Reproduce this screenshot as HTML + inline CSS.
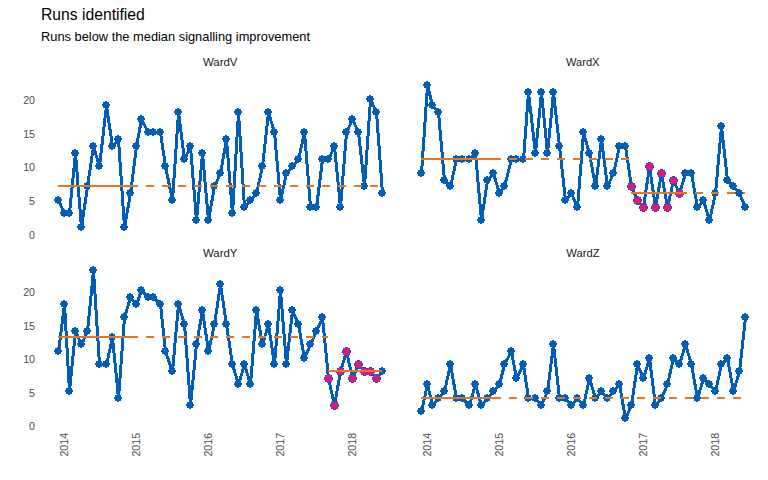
<!DOCTYPE html><html><head><meta charset="utf-8"><style>html,body{margin:0;padding:0;background:#fff;}svg{display:block;}text{font-family:"Liberation Sans",Arial,sans-serif;}</style></head><body>
<svg width="768" height="480" viewBox="0 0 768 480" shape-rendering="crispEdges">
<rect width="768" height="480" fill="#fff"/>
<text x="41" y="19.8" font-size="15.7" fill="#000">Runs identified</text>
<text x="41" y="41" font-size="13.6" textLength="269" lengthAdjust="spacingAndGlyphs" fill="#000">Runs below the median signalling improvement</text>
<text x="203" y="66.1" font-size="11" fill="#1A1A1A" textLength="34.5" lengthAdjust="spacingAndGlyphs">WardV</text>
<text x="566" y="66.1" font-size="11" fill="#1A1A1A" textLength="33.5" lengthAdjust="spacingAndGlyphs">WardX</text>
<text x="203" y="257.1" font-size="11" fill="#1A1A1A" textLength="34.5" lengthAdjust="spacingAndGlyphs">WardY</text>
<text x="566.3" y="257.1" font-size="11" fill="#1A1A1A" textLength="33.2" lengthAdjust="spacingAndGlyphs">WardZ</text>
<text x="35" y="238.95" font-size="10.67" fill="#4D4D4D" text-anchor="end">0</text>
<text x="35" y="205.17" font-size="10.67" fill="#4D4D4D" text-anchor="end">5</text>
<text x="35" y="171.40" font-size="10.67" fill="#4D4D4D" text-anchor="end">10</text>
<text x="35" y="137.62" font-size="10.67" fill="#4D4D4D" text-anchor="end">15</text>
<text x="35" y="103.85" font-size="10.67" fill="#4D4D4D" text-anchor="end">20</text>
<text x="35" y="430.20" font-size="10.67" fill="#4D4D4D" text-anchor="end">0</text>
<text x="35" y="396.70" font-size="10.67" fill="#4D4D4D" text-anchor="end">5</text>
<text x="35" y="363.20" font-size="10.67" fill="#4D4D4D" text-anchor="end">10</text>
<text x="35" y="329.70" font-size="10.67" fill="#4D4D4D" text-anchor="end">15</text>
<text x="35" y="296.20" font-size="10.67" fill="#4D4D4D" text-anchor="end">20</text>
<text transform="translate(68,432.9) rotate(-90)" font-size="10.67" fill="#4D4D4D" text-anchor="end">2014</text>
<text transform="translate(140,432.9) rotate(-90)" font-size="10.67" fill="#4D4D4D" text-anchor="end">2015</text>
<text transform="translate(212,432.9) rotate(-90)" font-size="10.67" fill="#4D4D4D" text-anchor="end">2016</text>
<text transform="translate(284,432.9) rotate(-90)" font-size="10.67" fill="#4D4D4D" text-anchor="end">2017</text>
<text transform="translate(356,432.9) rotate(-90)" font-size="10.67" fill="#4D4D4D" text-anchor="end">2018</text>
<text transform="translate(431,432.9) rotate(-90)" font-size="10.67" fill="#4D4D4D" text-anchor="end">2014</text>
<text transform="translate(503,432.9) rotate(-90)" font-size="10.67" fill="#4D4D4D" text-anchor="end">2015</text>
<text transform="translate(575,432.9) rotate(-90)" font-size="10.67" fill="#4D4D4D" text-anchor="end">2016</text>
<text transform="translate(647,432.9) rotate(-90)" font-size="10.67" fill="#4D4D4D" text-anchor="end">2017</text>
<text transform="translate(719,432.9) rotate(-90)" font-size="10.67" fill="#4D4D4D" text-anchor="end">2018</text>
<polyline points="58.5,200.5 64.5,213.5 69.5,213.5 75.5,153.5 81.5,227.5 87.5,186.5 93.5,146.5 99.5,166.5 106.5,105.5 112.5,146.5 118.5,139.5 124.5,227.5 130.5,193.5 136.5,146.5 141.5,119.5 148.5,132.5 153.5,132.5 160.5,132.5 165.5,166.5 172.5,200.5 178.5,112.5 184.5,159.5 190.5,146.5 196.5,220.5 202.5,153.5 208.5,220.5 214.5,186.5 220.5,173.5 226.5,139.5 232.5,213.5 238.5,112.5 244.5,207.5 250.5,200.5 256.5,193.5 262.5,166.5 268.5,112.5 274.5,132.5 280.5,200.5 286.5,173.5 292.5,166.5 298.5,159.5 304.5,132.5 310.5,207.5 316.5,207.5 322.5,159.5 328.5,159.5 334.5,146.5 340.5,207.5 346.5,132.5 352.5,119.5 358.5,132.5 364.5,186.5 370.5,99.5 376.5,112.5 382.5,193.5" fill="none" stroke="#005EB8" stroke-width="3" stroke-linejoin="round" stroke-linecap="round"/>
<path d="M57 196h2v1h2v2h1v2h-1v2h-2v1h-2v-1h-2v-2h-1v-2h1v-2h2zM63 209h2v1h2v2h1v2h-1v2h-2v1h-2v-1h-2v-2h-1v-2h1v-2h2zM68 209h2v1h2v2h1v2h-1v2h-2v1h-2v-1h-2v-2h-1v-2h1v-2h2zM74 149h2v1h2v2h1v2h-1v2h-2v1h-2v-1h-2v-2h-1v-2h1v-2h2zM80 223h2v1h2v2h1v2h-1v2h-2v1h-2v-1h-2v-2h-1v-2h1v-2h2zM86 182h2v1h2v2h1v2h-1v2h-2v1h-2v-1h-2v-2h-1v-2h1v-2h2zM92 142h2v1h2v2h1v2h-1v2h-2v1h-2v-1h-2v-2h-1v-2h1v-2h2zM98 162h2v1h2v2h1v2h-1v2h-2v1h-2v-1h-2v-2h-1v-2h1v-2h2zM105 101h2v1h2v2h1v2h-1v2h-2v1h-2v-1h-2v-2h-1v-2h1v-2h2zM111 142h2v1h2v2h1v2h-1v2h-2v1h-2v-1h-2v-2h-1v-2h1v-2h2zM117 135h2v1h2v2h1v2h-1v2h-2v1h-2v-1h-2v-2h-1v-2h1v-2h2zM123 223h2v1h2v2h1v2h-1v2h-2v1h-2v-1h-2v-2h-1v-2h1v-2h2zM129 189h2v1h2v2h1v2h-1v2h-2v1h-2v-1h-2v-2h-1v-2h1v-2h2zM135 142h2v1h2v2h1v2h-1v2h-2v1h-2v-1h-2v-2h-1v-2h1v-2h2zM140 115h2v1h2v2h1v2h-1v2h-2v1h-2v-1h-2v-2h-1v-2h1v-2h2zM147 128h2v1h2v2h1v2h-1v2h-2v1h-2v-1h-2v-2h-1v-2h1v-2h2zM152 128h2v1h2v2h1v2h-1v2h-2v1h-2v-1h-2v-2h-1v-2h1v-2h2zM159 128h2v1h2v2h1v2h-1v2h-2v1h-2v-1h-2v-2h-1v-2h1v-2h2zM164 162h2v1h2v2h1v2h-1v2h-2v1h-2v-1h-2v-2h-1v-2h1v-2h2zM171 196h2v1h2v2h1v2h-1v2h-2v1h-2v-1h-2v-2h-1v-2h1v-2h2zM177 108h2v1h2v2h1v2h-1v2h-2v1h-2v-1h-2v-2h-1v-2h1v-2h2zM183 155h2v1h2v2h1v2h-1v2h-2v1h-2v-1h-2v-2h-1v-2h1v-2h2zM189 142h2v1h2v2h1v2h-1v2h-2v1h-2v-1h-2v-2h-1v-2h1v-2h2zM195 216h2v1h2v2h1v2h-1v2h-2v1h-2v-1h-2v-2h-1v-2h1v-2h2zM201 149h2v1h2v2h1v2h-1v2h-2v1h-2v-1h-2v-2h-1v-2h1v-2h2zM207 216h2v1h2v2h1v2h-1v2h-2v1h-2v-1h-2v-2h-1v-2h1v-2h2zM213 182h2v1h2v2h1v2h-1v2h-2v1h-2v-1h-2v-2h-1v-2h1v-2h2zM219 169h2v1h2v2h1v2h-1v2h-2v1h-2v-1h-2v-2h-1v-2h1v-2h2zM225 135h2v1h2v2h1v2h-1v2h-2v1h-2v-1h-2v-2h-1v-2h1v-2h2zM231 209h2v1h2v2h1v2h-1v2h-2v1h-2v-1h-2v-2h-1v-2h1v-2h2zM237 108h2v1h2v2h1v2h-1v2h-2v1h-2v-1h-2v-2h-1v-2h1v-2h2zM243 203h2v1h2v2h1v2h-1v2h-2v1h-2v-1h-2v-2h-1v-2h1v-2h2zM249 196h2v1h2v2h1v2h-1v2h-2v1h-2v-1h-2v-2h-1v-2h1v-2h2zM255 189h2v1h2v2h1v2h-1v2h-2v1h-2v-1h-2v-2h-1v-2h1v-2h2zM261 162h2v1h2v2h1v2h-1v2h-2v1h-2v-1h-2v-2h-1v-2h1v-2h2zM267 108h2v1h2v2h1v2h-1v2h-2v1h-2v-1h-2v-2h-1v-2h1v-2h2zM273 128h2v1h2v2h1v2h-1v2h-2v1h-2v-1h-2v-2h-1v-2h1v-2h2zM279 196h2v1h2v2h1v2h-1v2h-2v1h-2v-1h-2v-2h-1v-2h1v-2h2zM285 169h2v1h2v2h1v2h-1v2h-2v1h-2v-1h-2v-2h-1v-2h1v-2h2zM291 162h2v1h2v2h1v2h-1v2h-2v1h-2v-1h-2v-2h-1v-2h1v-2h2zM297 155h2v1h2v2h1v2h-1v2h-2v1h-2v-1h-2v-2h-1v-2h1v-2h2zM303 128h2v1h2v2h1v2h-1v2h-2v1h-2v-1h-2v-2h-1v-2h1v-2h2zM309 203h2v1h2v2h1v2h-1v2h-2v1h-2v-1h-2v-2h-1v-2h1v-2h2zM315 203h2v1h2v2h1v2h-1v2h-2v1h-2v-1h-2v-2h-1v-2h1v-2h2zM321 155h2v1h2v2h1v2h-1v2h-2v1h-2v-1h-2v-2h-1v-2h1v-2h2zM327 155h2v1h2v2h1v2h-1v2h-2v1h-2v-1h-2v-2h-1v-2h1v-2h2zM333 142h2v1h2v2h1v2h-1v2h-2v1h-2v-1h-2v-2h-1v-2h1v-2h2zM339 203h2v1h2v2h1v2h-1v2h-2v1h-2v-1h-2v-2h-1v-2h1v-2h2zM345 128h2v1h2v2h1v2h-1v2h-2v1h-2v-1h-2v-2h-1v-2h1v-2h2zM351 115h2v1h2v2h1v2h-1v2h-2v1h-2v-1h-2v-2h-1v-2h1v-2h2zM357 128h2v1h2v2h1v2h-1v2h-2v1h-2v-1h-2v-2h-1v-2h1v-2h2zM363 182h2v1h2v2h1v2h-1v2h-2v1h-2v-1h-2v-2h-1v-2h1v-2h2zM369 95h2v1h2v2h1v2h-1v2h-2v1h-2v-1h-2v-2h-1v-2h1v-2h2zM375 108h2v1h2v2h1v2h-1v2h-2v1h-2v-1h-2v-2h-1v-2h1v-2h2zM381 189h2v1h2v2h1v2h-1v2h-2v1h-2v-1h-2v-2h-1v-2h1v-2h2z" fill="#005EB8"/>
<line x1="57.62" y1="186.00" x2="129.72" y2="186.00" stroke="#E87722" stroke-width="2"/>
<line x1="129.72" y1="186.00" x2="381.98" y2="186.00" stroke="#E87722" stroke-width="2" stroke-dasharray="8 8"/>
<polyline points="421.5,173.5 427.5,85.5 432.5,105.5 438.5,112.5 444.5,180.5 450.5,186.5 456.5,159.5 462.5,159.5 469.5,159.5 475.5,153.5 481.5,220.5 487.5,180.5 493.5,173.5 499.5,193.5 504.5,186.5 511.5,159.5 516.5,159.5 523.5,159.5 528.5,92.5 535.5,153.5 541.5,92.5 547.5,153.5 553.5,92.5 559.5,146.5 565.5,200.5 571.5,193.5 577.5,207.5 583.5,132.5 589.5,153.5 595.5,186.5 601.5,139.5 607.5,186.5 613.5,173.5 619.5,146.5 625.5,146.5 631.5,186.5 637.5,200.5 643.5,207.5 649.5,166.5 655.5,207.5 661.5,173.5 667.5,207.5 673.5,180.5 679.5,193.5 685.5,173.5 691.5,173.5 697.5,207.5 703.5,200.5 709.5,220.5 715.5,193.5 721.5,126.5 727.5,180.5 733.5,186.5 739.5,193.5 745.5,207.5" fill="none" stroke="#005EB8" stroke-width="3" stroke-linejoin="round" stroke-linecap="round"/>
<path d="M420 169h2v1h2v2h1v2h-1v2h-2v1h-2v-1h-2v-2h-1v-2h1v-2h2zM426 81h2v1h2v2h1v2h-1v2h-2v1h-2v-1h-2v-2h-1v-2h1v-2h2zM431 101h2v1h2v2h1v2h-1v2h-2v1h-2v-1h-2v-2h-1v-2h1v-2h2zM437 108h2v1h2v2h1v2h-1v2h-2v1h-2v-1h-2v-2h-1v-2h1v-2h2zM443 176h2v1h2v2h1v2h-1v2h-2v1h-2v-1h-2v-2h-1v-2h1v-2h2zM449 182h2v1h2v2h1v2h-1v2h-2v1h-2v-1h-2v-2h-1v-2h1v-2h2zM455 155h2v1h2v2h1v2h-1v2h-2v1h-2v-1h-2v-2h-1v-2h1v-2h2zM461 155h2v1h2v2h1v2h-1v2h-2v1h-2v-1h-2v-2h-1v-2h1v-2h2zM468 155h2v1h2v2h1v2h-1v2h-2v1h-2v-1h-2v-2h-1v-2h1v-2h2zM474 149h2v1h2v2h1v2h-1v2h-2v1h-2v-1h-2v-2h-1v-2h1v-2h2zM480 216h2v1h2v2h1v2h-1v2h-2v1h-2v-1h-2v-2h-1v-2h1v-2h2zM486 176h2v1h2v2h1v2h-1v2h-2v1h-2v-1h-2v-2h-1v-2h1v-2h2zM492 169h2v1h2v2h1v2h-1v2h-2v1h-2v-1h-2v-2h-1v-2h1v-2h2zM498 189h2v1h2v2h1v2h-1v2h-2v1h-2v-1h-2v-2h-1v-2h1v-2h2zM503 182h2v1h2v2h1v2h-1v2h-2v1h-2v-1h-2v-2h-1v-2h1v-2h2zM510 155h2v1h2v2h1v2h-1v2h-2v1h-2v-1h-2v-2h-1v-2h1v-2h2zM515 155h2v1h2v2h1v2h-1v2h-2v1h-2v-1h-2v-2h-1v-2h1v-2h2zM522 155h2v1h2v2h1v2h-1v2h-2v1h-2v-1h-2v-2h-1v-2h1v-2h2zM527 88h2v1h2v2h1v2h-1v2h-2v1h-2v-1h-2v-2h-1v-2h1v-2h2zM534 149h2v1h2v2h1v2h-1v2h-2v1h-2v-1h-2v-2h-1v-2h1v-2h2zM540 88h2v1h2v2h1v2h-1v2h-2v1h-2v-1h-2v-2h-1v-2h1v-2h2zM546 149h2v1h2v2h1v2h-1v2h-2v1h-2v-1h-2v-2h-1v-2h1v-2h2zM552 88h2v1h2v2h1v2h-1v2h-2v1h-2v-1h-2v-2h-1v-2h1v-2h2zM558 142h2v1h2v2h1v2h-1v2h-2v1h-2v-1h-2v-2h-1v-2h1v-2h2zM564 196h2v1h2v2h1v2h-1v2h-2v1h-2v-1h-2v-2h-1v-2h1v-2h2zM570 189h2v1h2v2h1v2h-1v2h-2v1h-2v-1h-2v-2h-1v-2h1v-2h2zM576 203h2v1h2v2h1v2h-1v2h-2v1h-2v-1h-2v-2h-1v-2h1v-2h2zM582 128h2v1h2v2h1v2h-1v2h-2v1h-2v-1h-2v-2h-1v-2h1v-2h2zM588 149h2v1h2v2h1v2h-1v2h-2v1h-2v-1h-2v-2h-1v-2h1v-2h2zM594 182h2v1h2v2h1v2h-1v2h-2v1h-2v-1h-2v-2h-1v-2h1v-2h2zM600 135h2v1h2v2h1v2h-1v2h-2v1h-2v-1h-2v-2h-1v-2h1v-2h2zM606 182h2v1h2v2h1v2h-1v2h-2v1h-2v-1h-2v-2h-1v-2h1v-2h2zM612 169h2v1h2v2h1v2h-1v2h-2v1h-2v-1h-2v-2h-1v-2h1v-2h2zM618 142h2v1h2v2h1v2h-1v2h-2v1h-2v-1h-2v-2h-1v-2h1v-2h2zM624 142h2v1h2v2h1v2h-1v2h-2v1h-2v-1h-2v-2h-1v-2h1v-2h2zM630 182h2v1h2v2h1v2h-1v2h-2v1h-2v-1h-2v-2h-1v-2h1v-2h2zM636 196h2v1h2v2h1v2h-1v2h-2v1h-2v-1h-2v-2h-1v-2h1v-2h2zM642 203h2v1h2v2h1v2h-1v2h-2v1h-2v-1h-2v-2h-1v-2h1v-2h2zM648 162h2v1h2v2h1v2h-1v2h-2v1h-2v-1h-2v-2h-1v-2h1v-2h2zM654 203h2v1h2v2h1v2h-1v2h-2v1h-2v-1h-2v-2h-1v-2h1v-2h2zM660 169h2v1h2v2h1v2h-1v2h-2v1h-2v-1h-2v-2h-1v-2h1v-2h2zM666 203h2v1h2v2h1v2h-1v2h-2v1h-2v-1h-2v-2h-1v-2h1v-2h2zM672 176h2v1h2v2h1v2h-1v2h-2v1h-2v-1h-2v-2h-1v-2h1v-2h2zM678 189h2v1h2v2h1v2h-1v2h-2v1h-2v-1h-2v-2h-1v-2h1v-2h2zM684 169h2v1h2v2h1v2h-1v2h-2v1h-2v-1h-2v-2h-1v-2h1v-2h2zM690 169h2v1h2v2h1v2h-1v2h-2v1h-2v-1h-2v-2h-1v-2h1v-2h2zM696 203h2v1h2v2h1v2h-1v2h-2v1h-2v-1h-2v-2h-1v-2h1v-2h2zM702 196h2v1h2v2h1v2h-1v2h-2v1h-2v-1h-2v-2h-1v-2h1v-2h2zM708 216h2v1h2v2h1v2h-1v2h-2v1h-2v-1h-2v-2h-1v-2h1v-2h2zM714 189h2v1h2v2h1v2h-1v2h-2v1h-2v-1h-2v-2h-1v-2h1v-2h2zM720 122h2v1h2v2h1v2h-1v2h-2v1h-2v-1h-2v-2h-1v-2h1v-2h2zM726 176h2v1h2v2h1v2h-1v2h-2v1h-2v-1h-2v-2h-1v-2h1v-2h2zM732 182h2v1h2v2h1v2h-1v2h-2v1h-2v-1h-2v-2h-1v-2h1v-2h2zM738 189h2v1h2v2h1v2h-1v2h-2v1h-2v-1h-2v-2h-1v-2h1v-2h2zM744 203h2v1h2v2h1v2h-1v2h-2v1h-2v-1h-2v-2h-1v-2h1v-2h2z" fill="#005EB8"/>
<path d="M630 182h3v1h2v2h1v3h-1v2h-2v1h-3v-1h-2v-2h-1v-3h1v-2h2zM636 196h3v1h2v2h1v3h-1v2h-2v1h-3v-1h-2v-2h-1v-3h1v-2h2zM642 203h3v1h2v2h1v3h-1v2h-2v1h-3v-1h-2v-2h-1v-3h1v-2h2zM648 162h3v1h2v2h1v3h-1v2h-2v1h-3v-1h-2v-2h-1v-3h1v-2h2zM654 203h3v1h2v2h1v3h-1v2h-2v1h-3v-1h-2v-2h-1v-3h1v-2h2zM660 169h3v1h2v2h1v3h-1v2h-2v1h-3v-1h-2v-2h-1v-3h1v-2h2zM666 203h3v1h2v2h1v3h-1v2h-2v1h-3v-1h-2v-2h-1v-3h1v-2h2zM672 176h3v1h2v2h1v3h-1v2h-2v1h-3v-1h-2v-2h-1v-3h1v-2h2zM678 189h3v1h2v2h1v3h-1v2h-2v1h-3v-1h-2v-2h-1v-3h1v-2h2z" fill="#005EB8"/>
<path d="M629 183h5v1h1v5h-1v1h-5v-1h-1v-5h1zM635 197h5v1h1v5h-1v1h-5v-1h-1v-5h1zM641 204h5v1h1v5h-1v1h-5v-1h-1v-5h1zM647 163h5v1h1v5h-1v1h-5v-1h-1v-5h1zM653 204h5v1h1v5h-1v1h-5v-1h-1v-5h1zM659 170h5v1h1v5h-1v1h-5v-1h-1v-5h1zM665 204h5v1h1v5h-1v1h-5v-1h-1v-5h1zM671 177h5v1h1v5h-1v1h-5v-1h-1v-5h1zM677 190h5v1h1v5h-1v1h-5v-1h-1v-5h1z" fill="#DB1884"/>
<line x1="420.62" y1="159.00" x2="492.72" y2="159.00" stroke="#E87722" stroke-width="2"/>
<line x1="492.72" y1="159.00" x2="631.00" y2="159.00" stroke="#E87722" stroke-width="2" stroke-dasharray="8 8"/>
<line x1="631.00" y1="193.00" x2="679.00" y2="193.00" stroke="#E87722" stroke-width="2"/>
<line x1="679.00" y1="193.00" x2="744.98" y2="193.00" stroke="#E87722" stroke-width="2" stroke-dasharray="8 8"/>
<polyline points="58.5,351.5 64.5,304.5 69.5,391.5 75.5,331.5 81.5,344.5 87.5,331.5 93.5,270.5 99.5,364.5 106.5,364.5 112.5,337.5 118.5,398.5 124.5,317.5 130.5,297.5 136.5,304.5 141.5,290.5 148.5,297.5 153.5,297.5 160.5,304.5 165.5,351.5 172.5,371.5 178.5,304.5 184.5,324.5 190.5,405.5 196.5,344.5 202.5,310.5 208.5,351.5 214.5,324.5 220.5,284.5 226.5,324.5 232.5,364.5 238.5,384.5 244.5,364.5 250.5,384.5 256.5,310.5 262.5,344.5 268.5,324.5 274.5,364.5 280.5,290.5 286.5,364.5 292.5,310.5 298.5,324.5 304.5,358.5 310.5,344.5 316.5,331.5 322.5,317.5 328.5,378.5 334.5,405.5 340.5,371.5 346.5,351.5 352.5,378.5 358.5,364.5 364.5,371.5 370.5,371.5 376.5,378.5 382.5,371.5" fill="none" stroke="#005EB8" stroke-width="3" stroke-linejoin="round" stroke-linecap="round"/>
<path d="M57 347h2v1h2v2h1v2h-1v2h-2v1h-2v-1h-2v-2h-1v-2h1v-2h2zM63 300h2v1h2v2h1v2h-1v2h-2v1h-2v-1h-2v-2h-1v-2h1v-2h2zM68 387h2v1h2v2h1v2h-1v2h-2v1h-2v-1h-2v-2h-1v-2h1v-2h2zM74 327h2v1h2v2h1v2h-1v2h-2v1h-2v-1h-2v-2h-1v-2h1v-2h2zM80 340h2v1h2v2h1v2h-1v2h-2v1h-2v-1h-2v-2h-1v-2h1v-2h2zM86 327h2v1h2v2h1v2h-1v2h-2v1h-2v-1h-2v-2h-1v-2h1v-2h2zM92 266h2v1h2v2h1v2h-1v2h-2v1h-2v-1h-2v-2h-1v-2h1v-2h2zM98 360h2v1h2v2h1v2h-1v2h-2v1h-2v-1h-2v-2h-1v-2h1v-2h2zM105 360h2v1h2v2h1v2h-1v2h-2v1h-2v-1h-2v-2h-1v-2h1v-2h2zM111 333h2v1h2v2h1v2h-1v2h-2v1h-2v-1h-2v-2h-1v-2h1v-2h2zM117 394h2v1h2v2h1v2h-1v2h-2v1h-2v-1h-2v-2h-1v-2h1v-2h2zM123 313h2v1h2v2h1v2h-1v2h-2v1h-2v-1h-2v-2h-1v-2h1v-2h2zM129 293h2v1h2v2h1v2h-1v2h-2v1h-2v-1h-2v-2h-1v-2h1v-2h2zM135 300h2v1h2v2h1v2h-1v2h-2v1h-2v-1h-2v-2h-1v-2h1v-2h2zM140 286h2v1h2v2h1v2h-1v2h-2v1h-2v-1h-2v-2h-1v-2h1v-2h2zM147 293h2v1h2v2h1v2h-1v2h-2v1h-2v-1h-2v-2h-1v-2h1v-2h2zM152 293h2v1h2v2h1v2h-1v2h-2v1h-2v-1h-2v-2h-1v-2h1v-2h2zM159 300h2v1h2v2h1v2h-1v2h-2v1h-2v-1h-2v-2h-1v-2h1v-2h2zM164 347h2v1h2v2h1v2h-1v2h-2v1h-2v-1h-2v-2h-1v-2h1v-2h2zM171 367h2v1h2v2h1v2h-1v2h-2v1h-2v-1h-2v-2h-1v-2h1v-2h2zM177 300h2v1h2v2h1v2h-1v2h-2v1h-2v-1h-2v-2h-1v-2h1v-2h2zM183 320h2v1h2v2h1v2h-1v2h-2v1h-2v-1h-2v-2h-1v-2h1v-2h2zM189 401h2v1h2v2h1v2h-1v2h-2v1h-2v-1h-2v-2h-1v-2h1v-2h2zM195 340h2v1h2v2h1v2h-1v2h-2v1h-2v-1h-2v-2h-1v-2h1v-2h2zM201 306h2v1h2v2h1v2h-1v2h-2v1h-2v-1h-2v-2h-1v-2h1v-2h2zM207 347h2v1h2v2h1v2h-1v2h-2v1h-2v-1h-2v-2h-1v-2h1v-2h2zM213 320h2v1h2v2h1v2h-1v2h-2v1h-2v-1h-2v-2h-1v-2h1v-2h2zM219 280h2v1h2v2h1v2h-1v2h-2v1h-2v-1h-2v-2h-1v-2h1v-2h2zM225 320h2v1h2v2h1v2h-1v2h-2v1h-2v-1h-2v-2h-1v-2h1v-2h2zM231 360h2v1h2v2h1v2h-1v2h-2v1h-2v-1h-2v-2h-1v-2h1v-2h2zM237 380h2v1h2v2h1v2h-1v2h-2v1h-2v-1h-2v-2h-1v-2h1v-2h2zM243 360h2v1h2v2h1v2h-1v2h-2v1h-2v-1h-2v-2h-1v-2h1v-2h2zM249 380h2v1h2v2h1v2h-1v2h-2v1h-2v-1h-2v-2h-1v-2h1v-2h2zM255 306h2v1h2v2h1v2h-1v2h-2v1h-2v-1h-2v-2h-1v-2h1v-2h2zM261 340h2v1h2v2h1v2h-1v2h-2v1h-2v-1h-2v-2h-1v-2h1v-2h2zM267 320h2v1h2v2h1v2h-1v2h-2v1h-2v-1h-2v-2h-1v-2h1v-2h2zM273 360h2v1h2v2h1v2h-1v2h-2v1h-2v-1h-2v-2h-1v-2h1v-2h2zM279 286h2v1h2v2h1v2h-1v2h-2v1h-2v-1h-2v-2h-1v-2h1v-2h2zM285 360h2v1h2v2h1v2h-1v2h-2v1h-2v-1h-2v-2h-1v-2h1v-2h2zM291 306h2v1h2v2h1v2h-1v2h-2v1h-2v-1h-2v-2h-1v-2h1v-2h2zM297 320h2v1h2v2h1v2h-1v2h-2v1h-2v-1h-2v-2h-1v-2h1v-2h2zM303 354h2v1h2v2h1v2h-1v2h-2v1h-2v-1h-2v-2h-1v-2h1v-2h2zM309 340h2v1h2v2h1v2h-1v2h-2v1h-2v-1h-2v-2h-1v-2h1v-2h2zM315 327h2v1h2v2h1v2h-1v2h-2v1h-2v-1h-2v-2h-1v-2h1v-2h2zM321 313h2v1h2v2h1v2h-1v2h-2v1h-2v-1h-2v-2h-1v-2h1v-2h2zM327 374h2v1h2v2h1v2h-1v2h-2v1h-2v-1h-2v-2h-1v-2h1v-2h2zM333 401h2v1h2v2h1v2h-1v2h-2v1h-2v-1h-2v-2h-1v-2h1v-2h2zM339 367h2v1h2v2h1v2h-1v2h-2v1h-2v-1h-2v-2h-1v-2h1v-2h2zM345 347h2v1h2v2h1v2h-1v2h-2v1h-2v-1h-2v-2h-1v-2h1v-2h2zM351 374h2v1h2v2h1v2h-1v2h-2v1h-2v-1h-2v-2h-1v-2h1v-2h2zM357 360h2v1h2v2h1v2h-1v2h-2v1h-2v-1h-2v-2h-1v-2h1v-2h2zM363 367h2v1h2v2h1v2h-1v2h-2v1h-2v-1h-2v-2h-1v-2h1v-2h2zM369 367h2v1h2v2h1v2h-1v2h-2v1h-2v-1h-2v-2h-1v-2h1v-2h2zM375 374h2v1h2v2h1v2h-1v2h-2v1h-2v-1h-2v-2h-1v-2h1v-2h2zM381 367h2v1h2v2h1v2h-1v2h-2v1h-2v-1h-2v-2h-1v-2h1v-2h2z" fill="#005EB8"/>
<path d="M327 374h3v1h2v2h1v3h-1v2h-2v1h-3v-1h-2v-2h-1v-3h1v-2h2zM333 401h3v1h2v2h1v3h-1v2h-2v1h-3v-1h-2v-2h-1v-3h1v-2h2zM339 367h3v1h2v2h1v3h-1v2h-2v1h-3v-1h-2v-2h-1v-3h1v-2h2zM345 347h3v1h2v2h1v3h-1v2h-2v1h-3v-1h-2v-2h-1v-3h1v-2h2zM351 374h3v1h2v2h1v3h-1v2h-2v1h-3v-1h-2v-2h-1v-3h1v-2h2zM357 360h3v1h2v2h1v3h-1v2h-2v1h-3v-1h-2v-2h-1v-3h1v-2h2zM363 367h3v1h2v2h1v3h-1v2h-2v1h-3v-1h-2v-2h-1v-3h1v-2h2zM369 367h3v1h2v2h1v3h-1v2h-2v1h-3v-1h-2v-2h-1v-3h1v-2h2zM375 374h3v1h2v2h1v3h-1v2h-2v1h-3v-1h-2v-2h-1v-3h1v-2h2z" fill="#005EB8"/>
<path d="M326 375h5v1h1v5h-1v1h-5v-1h-1v-5h1zM332 402h5v1h1v5h-1v1h-5v-1h-1v-5h1zM338 368h5v1h1v5h-1v1h-5v-1h-1v-5h1zM344 348h5v1h1v5h-1v1h-5v-1h-1v-5h1zM350 375h5v1h1v5h-1v1h-5v-1h-1v-5h1zM356 361h5v1h1v5h-1v1h-5v-1h-1v-5h1zM362 368h5v1h1v5h-1v1h-5v-1h-1v-5h1zM368 368h5v1h1v5h-1v1h-5v-1h-1v-5h1zM374 375h5v1h1v5h-1v1h-5v-1h-1v-5h1z" fill="#DB1884"/>
<line x1="57.62" y1="337.00" x2="129.72" y2="337.00" stroke="#E87722" stroke-width="2"/>
<line x1="129.72" y1="337.00" x2="328.05" y2="337.00" stroke="#E87722" stroke-width="2" stroke-dasharray="8 8"/>
<line x1="328.05" y1="371.00" x2="376.05" y2="371.00" stroke="#E87722" stroke-width="2"/>
<line x1="376.05" y1="371.00" x2="381.98" y2="371.00" stroke="#E87722" stroke-width="2" stroke-dasharray="8 8"/>
<polyline points="421.5,411.5 427.5,384.5 432.5,405.5 438.5,398.5 444.5,391.5 450.5,364.5 456.5,398.5 462.5,398.5 469.5,405.5 475.5,384.5 481.5,405.5 487.5,398.5 493.5,391.5 499.5,384.5 504.5,364.5 511.5,351.5 516.5,378.5 523.5,364.5 528.5,398.5 535.5,398.5 541.5,405.5 547.5,391.5 553.5,344.5 559.5,398.5 565.5,398.5 571.5,405.5 577.5,398.5 583.5,405.5 589.5,378.5 595.5,398.5 601.5,391.5 607.5,398.5 613.5,391.5 619.5,384.5 625.5,418.5 631.5,405.5 637.5,364.5 643.5,378.5 649.5,358.5 655.5,405.5 661.5,398.5 667.5,384.5 673.5,358.5 679.5,364.5 685.5,344.5 691.5,364.5 697.5,398.5 703.5,378.5 709.5,384.5 715.5,391.5 721.5,364.5 727.5,358.5 733.5,391.5 739.5,371.5 745.5,317.5" fill="none" stroke="#005EB8" stroke-width="3" stroke-linejoin="round" stroke-linecap="round"/>
<path d="M420 407h2v1h2v2h1v2h-1v2h-2v1h-2v-1h-2v-2h-1v-2h1v-2h2zM426 380h2v1h2v2h1v2h-1v2h-2v1h-2v-1h-2v-2h-1v-2h1v-2h2zM431 401h2v1h2v2h1v2h-1v2h-2v1h-2v-1h-2v-2h-1v-2h1v-2h2zM437 394h2v1h2v2h1v2h-1v2h-2v1h-2v-1h-2v-2h-1v-2h1v-2h2zM443 387h2v1h2v2h1v2h-1v2h-2v1h-2v-1h-2v-2h-1v-2h1v-2h2zM449 360h2v1h2v2h1v2h-1v2h-2v1h-2v-1h-2v-2h-1v-2h1v-2h2zM455 394h2v1h2v2h1v2h-1v2h-2v1h-2v-1h-2v-2h-1v-2h1v-2h2zM461 394h2v1h2v2h1v2h-1v2h-2v1h-2v-1h-2v-2h-1v-2h1v-2h2zM468 401h2v1h2v2h1v2h-1v2h-2v1h-2v-1h-2v-2h-1v-2h1v-2h2zM474 380h2v1h2v2h1v2h-1v2h-2v1h-2v-1h-2v-2h-1v-2h1v-2h2zM480 401h2v1h2v2h1v2h-1v2h-2v1h-2v-1h-2v-2h-1v-2h1v-2h2zM486 394h2v1h2v2h1v2h-1v2h-2v1h-2v-1h-2v-2h-1v-2h1v-2h2zM492 387h2v1h2v2h1v2h-1v2h-2v1h-2v-1h-2v-2h-1v-2h1v-2h2zM498 380h2v1h2v2h1v2h-1v2h-2v1h-2v-1h-2v-2h-1v-2h1v-2h2zM503 360h2v1h2v2h1v2h-1v2h-2v1h-2v-1h-2v-2h-1v-2h1v-2h2zM510 347h2v1h2v2h1v2h-1v2h-2v1h-2v-1h-2v-2h-1v-2h1v-2h2zM515 374h2v1h2v2h1v2h-1v2h-2v1h-2v-1h-2v-2h-1v-2h1v-2h2zM522 360h2v1h2v2h1v2h-1v2h-2v1h-2v-1h-2v-2h-1v-2h1v-2h2zM527 394h2v1h2v2h1v2h-1v2h-2v1h-2v-1h-2v-2h-1v-2h1v-2h2zM534 394h2v1h2v2h1v2h-1v2h-2v1h-2v-1h-2v-2h-1v-2h1v-2h2zM540 401h2v1h2v2h1v2h-1v2h-2v1h-2v-1h-2v-2h-1v-2h1v-2h2zM546 387h2v1h2v2h1v2h-1v2h-2v1h-2v-1h-2v-2h-1v-2h1v-2h2zM552 340h2v1h2v2h1v2h-1v2h-2v1h-2v-1h-2v-2h-1v-2h1v-2h2zM558 394h2v1h2v2h1v2h-1v2h-2v1h-2v-1h-2v-2h-1v-2h1v-2h2zM564 394h2v1h2v2h1v2h-1v2h-2v1h-2v-1h-2v-2h-1v-2h1v-2h2zM570 401h2v1h2v2h1v2h-1v2h-2v1h-2v-1h-2v-2h-1v-2h1v-2h2zM576 394h2v1h2v2h1v2h-1v2h-2v1h-2v-1h-2v-2h-1v-2h1v-2h2zM582 401h2v1h2v2h1v2h-1v2h-2v1h-2v-1h-2v-2h-1v-2h1v-2h2zM588 374h2v1h2v2h1v2h-1v2h-2v1h-2v-1h-2v-2h-1v-2h1v-2h2zM594 394h2v1h2v2h1v2h-1v2h-2v1h-2v-1h-2v-2h-1v-2h1v-2h2zM600 387h2v1h2v2h1v2h-1v2h-2v1h-2v-1h-2v-2h-1v-2h1v-2h2zM606 394h2v1h2v2h1v2h-1v2h-2v1h-2v-1h-2v-2h-1v-2h1v-2h2zM612 387h2v1h2v2h1v2h-1v2h-2v1h-2v-1h-2v-2h-1v-2h1v-2h2zM618 380h2v1h2v2h1v2h-1v2h-2v1h-2v-1h-2v-2h-1v-2h1v-2h2zM624 414h2v1h2v2h1v2h-1v2h-2v1h-2v-1h-2v-2h-1v-2h1v-2h2zM630 401h2v1h2v2h1v2h-1v2h-2v1h-2v-1h-2v-2h-1v-2h1v-2h2zM636 360h2v1h2v2h1v2h-1v2h-2v1h-2v-1h-2v-2h-1v-2h1v-2h2zM642 374h2v1h2v2h1v2h-1v2h-2v1h-2v-1h-2v-2h-1v-2h1v-2h2zM648 354h2v1h2v2h1v2h-1v2h-2v1h-2v-1h-2v-2h-1v-2h1v-2h2zM654 401h2v1h2v2h1v2h-1v2h-2v1h-2v-1h-2v-2h-1v-2h1v-2h2zM660 394h2v1h2v2h1v2h-1v2h-2v1h-2v-1h-2v-2h-1v-2h1v-2h2zM666 380h2v1h2v2h1v2h-1v2h-2v1h-2v-1h-2v-2h-1v-2h1v-2h2zM672 354h2v1h2v2h1v2h-1v2h-2v1h-2v-1h-2v-2h-1v-2h1v-2h2zM678 360h2v1h2v2h1v2h-1v2h-2v1h-2v-1h-2v-2h-1v-2h1v-2h2zM684 340h2v1h2v2h1v2h-1v2h-2v1h-2v-1h-2v-2h-1v-2h1v-2h2zM690 360h2v1h2v2h1v2h-1v2h-2v1h-2v-1h-2v-2h-1v-2h1v-2h2zM696 394h2v1h2v2h1v2h-1v2h-2v1h-2v-1h-2v-2h-1v-2h1v-2h2zM702 374h2v1h2v2h1v2h-1v2h-2v1h-2v-1h-2v-2h-1v-2h1v-2h2zM708 380h2v1h2v2h1v2h-1v2h-2v1h-2v-1h-2v-2h-1v-2h1v-2h2zM714 387h2v1h2v2h1v2h-1v2h-2v1h-2v-1h-2v-2h-1v-2h1v-2h2zM720 360h2v1h2v2h1v2h-1v2h-2v1h-2v-1h-2v-2h-1v-2h1v-2h2zM726 354h2v1h2v2h1v2h-1v2h-2v1h-2v-1h-2v-2h-1v-2h1v-2h2zM732 387h2v1h2v2h1v2h-1v2h-2v1h-2v-1h-2v-2h-1v-2h1v-2h2zM738 367h2v1h2v2h1v2h-1v2h-2v1h-2v-1h-2v-2h-1v-2h1v-2h2zM744 313h2v1h2v2h1v2h-1v2h-2v1h-2v-1h-2v-2h-1v-2h1v-2h2z" fill="#005EB8"/>
<line x1="420.62" y1="398.00" x2="492.72" y2="398.00" stroke="#E87722" stroke-width="2"/>
<line x1="492.72" y1="398.00" x2="744.98" y2="398.00" stroke="#E87722" stroke-width="2" stroke-dasharray="8 8"/>
</svg></body></html>
